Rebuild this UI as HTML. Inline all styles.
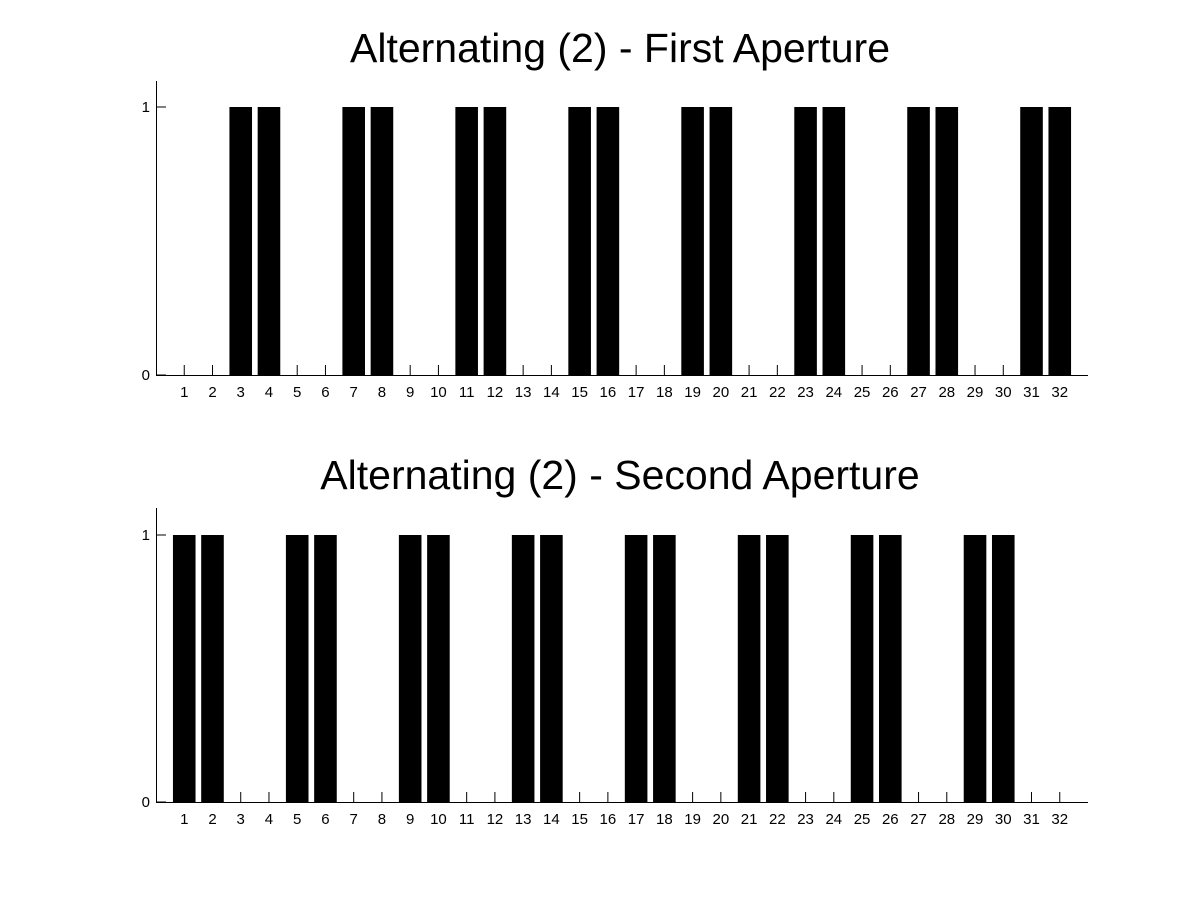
<!DOCTYPE html>
<html><head><meta charset="utf-8"><style>
html,body{margin:0;padding:0;background:#fff;}
svg{display:block;font-family:"Liberation Sans",Arial,sans-serif;}
</style></head><body>
<svg id="chart" width="1201" height="901" viewBox="0 0 1201 901"></svg>
<script>
const categories = Array.from({length:32},(_,i)=>i+1);
const firstAperture = [0,0,1,1,0,0,1,1,0,0,1,1,0,0,1,1,0,0,1,1,0,0,1,1,0,0,1,1,0,0,1,1];
const secondAperture = [1,1,0,0,1,1,0,0,1,1,0,0,1,1,0,0,1,1,0,0,1,1,0,0,1,1,0,0,1,1,0,0];
const yTicks = [0,1];
const titles = ["Alternating (2) - First Aperture","Alternating (2) - Second Aperture"];

const svg = document.getElementById('chart');
const NS = 'http://www.w3.org/2000/svg';
function mk(tag, attrs){const e=document.createElementNS(NS,tag);for(const k in attrs)e.setAttribute(k,attrs[k]);return e;}

const panels = [
  {y0:375, y1:107, top:81, titleY:62, data:firstAperture, key:'first'},
  {y0:802, y1:535, top:508, titleY:489, data:secondAperture, key:'second'}
];
const xL=156, xR=1088;
function xs(v){return xL + v*(xR-xL)/33;}
const bw = 0.8*(xR-xL)/33;

panels.forEach((p,pi)=>{
  const g = mk('g',{});
  
  
  svg.appendChild(g);
  const ys = v => p.y0 + v*(p.y1-p.y0);
  const t = mk('text',{x:620,y:p.titleY,'text-anchor':'middle','font-size':'41'});
  t.textContent = titles[pi];
  
  
  g.appendChild(t);
  categories.forEach((c,i)=>{
    const v = p.data[i];
    if(v>0){
      const r = mk('rect',{x:xs(c)-bw/2,y:ys(v),width:bw,height:ys(0)-ys(v),fill:'#000'});
      
      
      g.appendChild(r);
    }
    const tk = mk('line',{x1:xs(c),x2:xs(c),y1:ys(0),y2:ys(0)-10,stroke:'#000','stroke-width':1});
    
    
    g.appendChild(tk);
    const lb = mk('text',{x:xs(c),y:ys(0)+22,'text-anchor':'middle','font-size':'15'});
    lb.textContent = c;
    
    
    g.appendChild(lb);
  });
  yTicks.forEach(v=>{
    const tk = mk('line',{x1:xL,x2:xL+10,y1:ys(v),y2:ys(v),stroke:'#000','stroke-width':1});
    
    
    g.appendChild(tk);
    const lb = mk('text',{x:xL-6,y:ys(v)+5,'text-anchor':'end','font-size':'15'});
    lb.textContent = v;
    
    
    g.appendChild(lb);
  });
  const ya = mk('line',{x1:xL+0.5,x2:xL+0.5,y1:p.top,y2:p.y0,stroke:'#000','stroke-width':1});
  
  
  g.appendChild(ya);
  const xa = mk('line',{x1:xL,x2:xR,y1:p.y0+0.5,y2:p.y0+0.5,stroke:'#000','stroke-width':1});
  
  
  g.appendChild(xa);
});
</script>
</body></html>
